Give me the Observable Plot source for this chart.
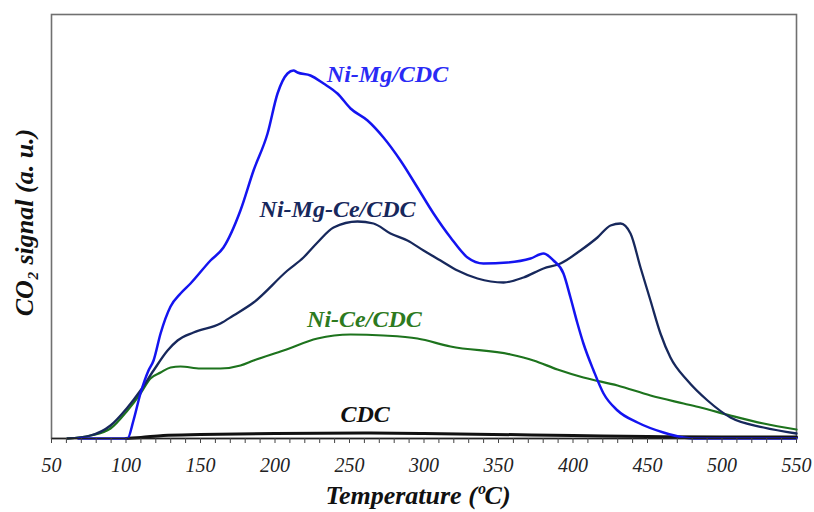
<!DOCTYPE html>
<html><head><meta charset="utf-8">
<script src="https://cdn.jsdelivr.net/npm/d3@7"></script>
<script src="https://cdn.jsdelivr.net/npm/@observablehq/plot@0.6"></script>
<style>body{margin:0;background:#fff}</style>
</head><body><div id="chart"></div>
<script>
// Ni-Mg/CDC (blue)
const niMgT = [68, 101, 105, 109.7, 115.1, 118.5, 123.2, 129.9, 136.6, 143.3, 156.7, 165.4, 176.8, 185.6, 195.0, 201.7, 208.4, 212.4, 215.1, 223.8, 232.6, 241.9, 250.7, 262.1, 272.8, 284.2, 295.6, 306.4, 317.8, 329.2, 339.9, 356.0, 371.5, 380.2, 386.9, 393.6, 398.3, 403.0, 407.0, 413.8, 420.5, 429.9, 443.3, 460.7, 474.2, 480, 550];
const niMgV = [0, 0, 18, 45, 68, 78, 105, 132, 145, 155, 178, 191, 228, 268, 305, 345, 365, 368, 366, 363, 355, 345, 330, 318, 301, 278, 251, 225, 201, 181, 175, 176, 180, 185, 178, 165, 141, 115, 95, 68, 45, 28, 16, 6, 1, 0, 0];
// Ni-Mg-Ce/CDC (navy)
const niMgCeT = [60.7, 76.2, 89.6, 101.0, 109.7, 118.5, 127.9, 134.6, 145.3, 163.4, 172.1, 185.6, 208.4, 219.1, 228.5, 239.3, 255.4, 266.1, 277.5, 288.9, 299.7, 311.1, 322.5, 335.9, 353.4, 366.8, 380.2, 391.6, 405.0, 416.4, 425.2, 431.9, 438.6, 445.3, 452.0, 458.7, 465.4, 476.8, 490.3, 505.7, 527.9, 550];
const niMgCeV = [0, 3, 13, 31, 48, 68, 88, 98, 106, 115, 123, 136, 168, 181, 196, 211, 217, 215, 205, 198, 188, 178, 168, 160, 156, 161, 170, 175, 188, 201, 213, 215, 205, 171, 138, 105, 81, 58, 38, 21, 11, 5];
// Ni-Ce/CDC (green)
const niCeT = [60.7, 76.2, 89.6, 101.0, 109.7, 116.4, 123.2, 129.9, 136.6, 150.0, 163.4, 176.8, 185.6, 205.7, 228.5, 250.7, 272.8, 295.6, 317.8, 358.1, 373.5, 389.6, 407.0, 429.9, 452.0, 474.2, 485.6, 505.7, 527.9, 550];
const niCeV = [0, 3, 10, 28, 45, 60, 66, 71, 72, 70, 70, 73, 78, 88, 100, 104, 103, 100, 92, 84, 78, 69, 61, 53, 43, 35, 31, 23, 15, 9];
// CDC (black)
const cdcT = [100, 110, 125, 150, 200, 260, 300, 400, 450, 500, 550];
const cdcV = [0, 1, 3, 4, 5, 5.5, 5, 3, 2, 1.5, 1.5];

const seriesNames = ["Ni-Mg/CDC", "Ni-Mg-Ce/CDC", "Ni-Ce/CDC", "CDC"];
const seriesColors = ["#1414f0", "#17285c", "#1d731d", "#111111"];
const labelColors = ["#2a2af5", "#17285c", "#2d7a1e", "#111111"];
const labelT = [275.5, 242, 260, 260.5];
const labelV = [364, 229, 119, 24];
const xTicks = d3.range(50, 551, 10);

const toRows = (T, V, s) => T.map((t, i) => ({t, v: V[i], s}));
const rows = [
  ...toRows(niMgT, niMgV, seriesNames[0]),
  ...toRows(niMgCeT, niMgCeV, seriesNames[1]),
  ...toRows(niCeT, niCeV, seriesNames[2]),
  ...toRows(cdcT, cdcV, seriesNames[3])
];
const labels = seriesNames.map((s, i) => ({s, t: labelT[i], v: labelV[i], c: labelColors[i]}));
const widths = {"Ni-Mg/CDC": 2.5, "Ni-Mg-Ce/CDC": 2.3, "Ni-Ce/CDC": 2.2, "CDC": 3};

const chart = Plot.plot({
  width: 814, height: 512,
  marginLeft: 51, marginRight: 18, marginTop: 14, marginBottom: 74,
  x: {domain: [50, 550]},
  y: {domain: [0, 424], axis: null},
  color: {domain: seriesNames, range: seriesColors},
  style: {fontFamily: "'Liberation Serif', 'Times New Roman', serif", background: "white"},
  marks: [
    Plot.frame({stroke: "#707070", strokeWidth: 1.6}),
    ...seriesNames.slice().reverse().map(s => Plot.line(rows.filter(r => r.s === s), {x: "t", y: "v", stroke: "s", strokeWidth: widths[s], curve: "monotone-x"})),
    Plot.ruleY([0], {stroke: "#222", strokeWidth: 1.5}),
    Plot.axisX({ticks: xTicks, tickSize: 5, tickPadding: 14, tickFormat: d => d % 50 === 0 ? String(d) : "", fontSize: 20, fontStyle: "italic", fill: "#222", stroke: "#444", label: null}),
    Plot.text(labels, {x: "t", y: "v", text: "s", fill: "c", fontSize: 24, fontWeight: "bold", fontStyle: "italic"}),
    Plot.text(["Temperature (ºC)"], {frameAnchor: "bottom", lineAnchor: "middle", dy: 57, dx: -6, fontSize: 26, fontWeight: "bold", fontStyle: "italic", fill: "#111"}),
    Plot.text(["CO₂ signal (a. u.)"], {frameAnchor: "left", textAnchor: "middle", lineAnchor: "middle", dx: -27, dy: -4, rotate: -90, fontSize: 26, fontWeight: "bold", fontStyle: "italic", fill: "#111"})
  ]
});
document.getElementById("chart").appendChild(chart);
</script>
</body></html>
